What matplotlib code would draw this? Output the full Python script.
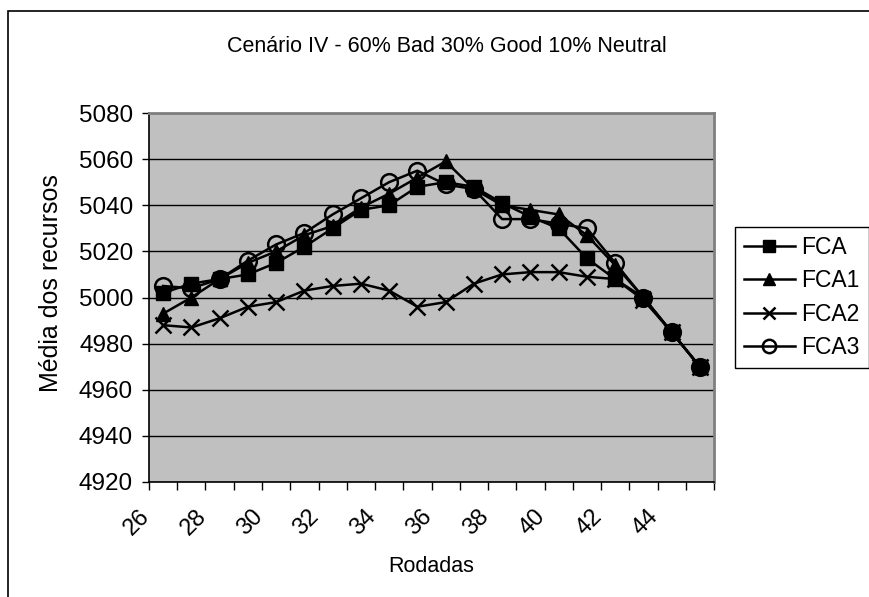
import numpy as np
import matplotlib
matplotlib.use("Agg")
import matplotlib.pyplot as plt
from matplotlib.patches import Rectangle
from matplotlib.transforms import ScaledTranslation

plt.rcParams['font.family'] = ['Liberation Sans', 'DejaVu Sans']

# rodadas 26..45, one point per round
rodadas = list(range(26, 46))
fca = [5002, 5006, 5008, 5010, 5015, 5022, 5030, 5038, 5040, 5048, 5050, 5048, 5041,
       5035, 5030, 5017, 5008, 5000, 4985, 4970]
fca1 = [4993, 5000, 5008, 5015, 5020, 5027, 5031, 5039, 5045, 5052, 5059, 5047, 5040,
        5038, 5036, 5027, 5014, 5000, 4985, 4970]
fca2 = [4988, 4987, 4991, 4996, 4998, 5003, 5005, 5006, 5003, 4996, 4998, 5006, 5010,
        5011, 5011, 5009, 5008, 4999, 4985, 4970]
fca3 = [5005, 5004, 5008, 5016, 5023, 5028, 5036, 5043, 5050, 5055, 5049, 5047, 5034,
        5034, 5032, 5030, 5015, 5000, 4985, 4970]

W, H, DPI = 870, 597, 100
fig = plt.figure(figsize=(W / DPI, H / DPI), dpi=DPI)

# chart area border
fig.patches.append(Rectangle((8 / W, -0.1), 1.2, 1 - 11 / H + 0.1, transform=fig.transFigure,
                             fill=False, edgecolor='black', linewidth=1.2))

ax = fig.add_axes([149 / W, 1 - 482 / H, (714 - 149) / W, (482 - 113) / H])
ax.set_facecolor('#C0C0C0')

x = np.arange(len(rodadas))
lw = 1.8
ax.plot(x, fca, color='black', lw=lw, marker='s', ms=10, label='FCA', zorder=5)
ax.plot(x, fca1, color='black', lw=lw, marker='^', ms=10, label='FCA1', zorder=4)
ax.plot(x, fca2, color='black', lw=lw, marker='x', ms=11, mew=1.8, label='FCA2', zorder=3)
ax.plot(x, fca3, color='black', lw=lw, marker='o', ms=12, mfc='none', mew=1.8,
        label='FCA3', zorder=2)

ax.set_xlim(-0.5, len(rodadas) - 0.5)
ax.set_ylim(4920, 5080)
ax.set_yticks(np.arange(4920, 5081, 20))
ax.yaxis.grid(True, color='black', lw=1)
ax.set_axisbelow(True)

# category ticks between points, labels every other round
ax.set_xticks(x[::2])
ax.set_xticklabels([str(r) for r in rodadas[::2]], rotation=45, ha='right', fontsize=17)
ax.set_xticks(np.arange(-0.5, len(rodadas)), minor=True)
ax.tick_params(axis='x', which='major', length=0, pad=17)
ax.tick_params(axis='x', which='minor', length=6, width=1, direction='out')
ax.tick_params(axis='y', length=5, width=1, direction='out', pad=6.5, labelsize=17.5)
for lbl in ax.get_xticklabels():
    lbl.set_transform(lbl.get_transform() + ScaledTranslation(-9 / DPI, 0, fig.dpi_scale_trans))

for side in ['top', 'right']:
    ax.spines[side].set_color('#808080')
    ax.spines[side].set_linewidth(2)
for side in ['left', 'bottom']:
    ax.spines[side].set_color('black')
    ax.spines[side].set_linewidth(1.2)

ax.set_ylabel('Média dos recursos', fontsize=18)
ax.yaxis.set_label_coords(-0.152, 0.54)
ax.set_xlabel('Rodadas', fontsize=15.5)
ax.xaxis.set_label_coords(0.5, -0.2)

fig.text(447 / W, 1 - 47 / H, 'Cenário IV - 60% Bad 30% Good 10% Neutral',
         ha='center', va='center', fontsize=15.5)

leg = ax.legend(loc='upper left', bbox_to_anchor=(735 / W, 1 - 227 / H),
                bbox_transform=fig.transFigure, fontsize=16.5, frameon=True,
                fancybox=False, edgecolor='black', framealpha=1, borderpad=0.4,
                labelspacing=0.45, handlelength=2.2, handletextpad=0.3, borderaxespad=0,
                markerscale=0.8)
leg.get_frame().set_linewidth(1)

fig.savefig('out.png', dpi=DPI)
